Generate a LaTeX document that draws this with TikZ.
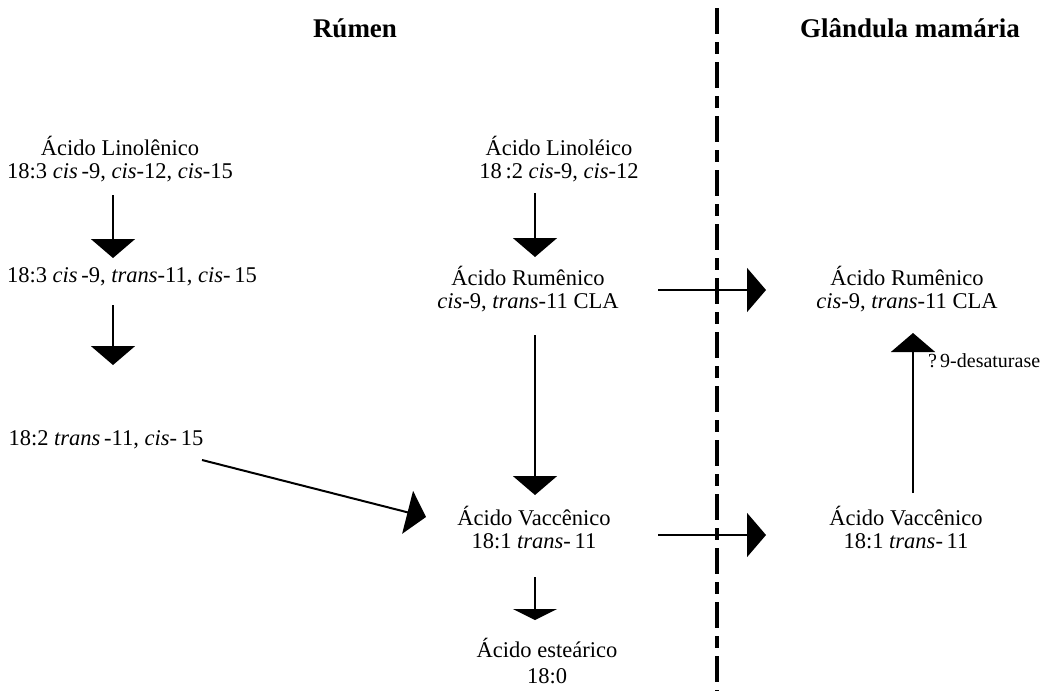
\documentclass[tikz,border=0pt]{standalone}
\usepackage{fontspec}
\setmainfont{Liberation Serif}
\usetikzlibrary{arrows.meta}

\begin{document}
\begin{tikzpicture}[x=1pt ,y=-1pt ,
    txt/.style ={align=center ,inner sep=0pt ,anchor=base ,font=\fontsize{22.5}{23.5}\selectfont},
    head/.style ={txt ,font=\fontsize{27}{30}\selectfont\bfseries},
    arr/.style ={-{Triangle[width=44pt,length=19pt]} ,line width=2pt},
    border/.style ={line width=4.5pt ,dash pattern=on 26pt off 8pt on 12pt off 8pt}]
    \useasboundingbox (0,0) rectangle (1052,691);
    \node[head] (rumen) at (355,37) {Rúmen};
    \node[head] (glandula) at (910,37) {Glândula mamária};
    \coordinate (top) at (717,8);
    \coordinate (bottom) at (717,691);
    \draw[border] (top) -- (bottom);

    % two-line nodes sit on the baseline of their last line
    \node[txt] (linolenico) at (120,178.5) {Ácido Linolênico\\18:3 \textit{cis}\,-9, \textit{cis}-12, \textit{cis}-15};
    \node[txt] (ctc) at (132,282) {18:3 \textit{cis}\,-9, \textit{trans}-11, \textit{cis}-\,15};
    \node[txt] (tc) at (106,445) {18:2 \textit{trans}\,-11, \textit{cis}-\,15};
    \node[txt] (linoleico) at (559,178.5) {Ácido Linoléico\\18\,:2 \textit{cis}-9, \textit{cis}-12};
    \node[txt] (rumenicoA) at (528,308.5) {Ácido Rumênico\\\textit{cis}-9, \textit{trans}-11 CLA};
    \node[txt] (vaccenicoA) at (534,548.5) {Ácido Vaccênico\\18:1 \textit{trans}-\,11};
    \node[txt] (estearico) at (547,683.5) {Ácido esteárico\\[3pt]18:0};
    \node[txt] (rumenicoB) at (907,308.5) {Ácido Rumênico\\\textit{cis}-9, \textit{trans}-11 CLA};
    \node[txt] (vaccenicoB) at (906,548.5) {Ácido Vaccênico\\18:1 \textit{trans}-\,11};

    \draw[arr] ([xshift=-7pt,yshift=-16.5pt]linolenico.base) -- ([xshift=-19pt,yshift=24pt]ctc.base);
    \draw[arr] ([xshift=-19pt,yshift=-23pt]ctc.base) -- ([xshift=7pt,yshift=80pt]tc.base);
    \draw[arr] ([xshift=96pt,yshift=-15pt]tc.base) -- ([xshift=-108pt,yshift=31.5pt]vaccenicoA.base);
    \draw[arr] ([xshift=-24pt,yshift=-14.5pt]linoleico.base) -- ([xshift=7pt,yshift=51.5pt]rumenicoA.base);
    \draw[arr] ([xshift=7pt,yshift=-26.5pt]rumenicoA.base) -- ([xshift=1pt,yshift=53.5pt]vaccenicoA.base);
    \draw[-{Triangle[width=44pt,length=11pt]} ,line width=2pt] ([xshift=1pt,yshift=-28.5pt]vaccenicoA.base) -- ([xshift=-12pt,yshift=63.5pt]estearico.base);
    \draw[arr] ([xshift=130pt,yshift=18.5pt]rumenicoA.base) -- ([xshift=-141pt,yshift=18.5pt]rumenicoB.base);
    \draw[arr] ([xshift=124pt,yshift=13.5pt]vaccenicoA.base) -- ([xshift=-140pt,yshift=13.5pt]vaccenicoB.base);
    \draw[arr] ([xshift=7pt,yshift=55.5pt]vaccenicoB.base) -- ([xshift=6pt,yshift=-24.5pt]rumenicoB.base)
      node[txt ,pos=0.83 ,anchor=west ,xshift=14pt ,font=\fontsize{20}{22}\selectfont] (desaturase) {?\,9-desaturase};
\end{tikzpicture}
\end{document}
